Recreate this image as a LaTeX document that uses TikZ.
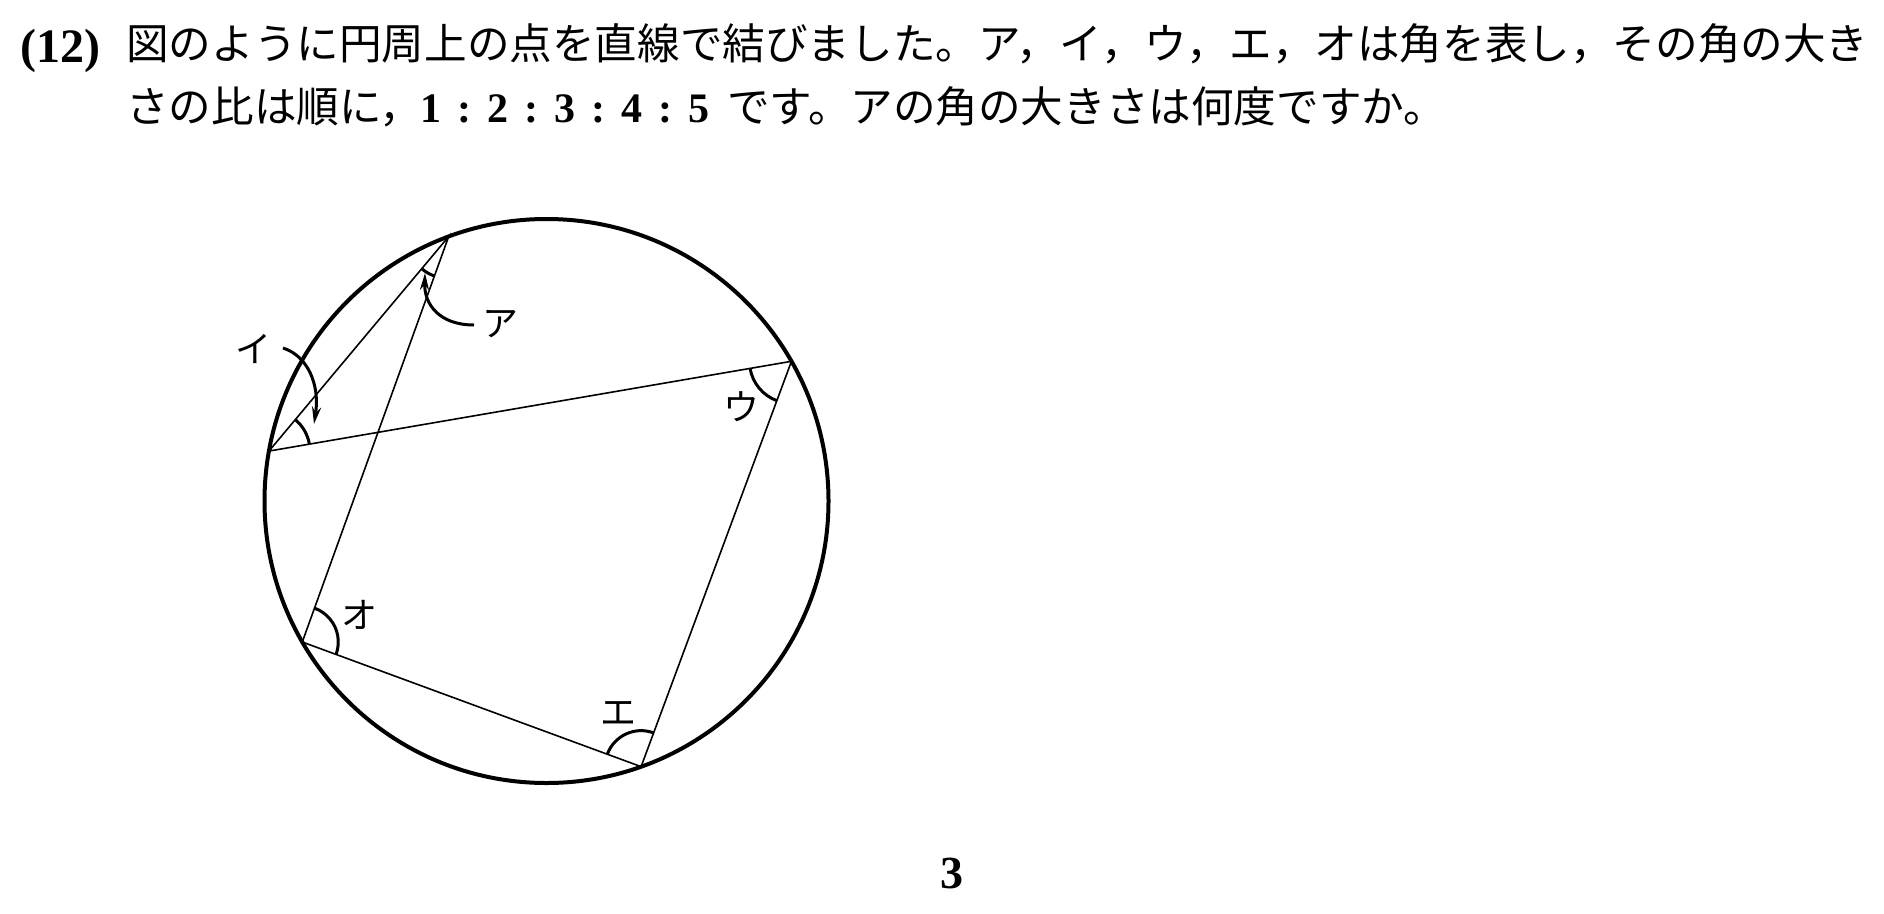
\documentclass[tikz,border=0pt]{standalone}
\usepackage{fontspec}
\usepackage{tikz}
\usetikzlibrary{ arrows.meta,  % For the pointer tips
                 positioning,  % For easy node-relative placements
               }
\newfontfamily\jpfont{Noto Sans CJK JP}
\newfontfamily\numfont{Liberation Serif}
\newcommand{\ratiosep}{\hspace{16pt}:\hspace{16pt}}
\tikzset{
  rim/.style={line width=4pt},
  chord/.style={line width=1.6pt},
  anglemark/.style={line width=3pt},
  pointer/.style={line width=3pt, -{Stealth[length=17pt,width=9pt]}},
  jtext/.style={font=\jpfont\fontsize{42.6}{50}\selectfont, inner sep=0pt, anchor=base west},
  btext/.style={font=\numfont\bfseries\fontsize{42}{48}\selectfont, inner sep=0pt, anchor=base west},
  lbl/.style={font=\jpfont\fontsize{36}{36}\selectfont, inner sep=0pt},
}

\begin{document}
\begin{tikzpicture}[x=1pt,y=-1pt]
    \useasboundingbox (0,0) rectangle (1884,913);
    % question text
    \node[btext, font=\numfont\bfseries\fontsize{48}{52}\selectfont] (num) at (20,62) {(12)};
    \node[jtext] (q1) at (126,59) {図のように円周上の点を直線で結びました。ア，イ，ウ，エ，オは角を表し，その角の大き};
    \node[jtext] (q2) at (126,122) {さの比は順に，};
    \node[btext] (ratio) at ([xshift=-2pt]q2.base east) {1\ratiosep 2\ratiosep 3\ratiosep 4\ratiosep 5};
    \node[jtext] (q3) at ([xshift=17pt]ratio.base east) {です。アの角の大きさは何度ですか。};
    \node[btext, font=\numfont\bfseries\fontsize{46}{48}\selectfont, anchor=base] (page) at (952,888) {3};
    % circle and points
    \coordinate (O) at (546.5,501);
    \draw[rim] (O) circle[radius=282];
    \path (O) ++(-110.3:282) coordinate (A);
    \path (O) ++(-169.8:282) coordinate (B);
    \path (O) ++(-29.7:282) coordinate (C);
    \path (O) ++(150:282) coordinate (D);
    \path (O) ++(70.4:282) coordinate (E);
    \draw[chord] (A) -- (B) -- (C) -- (E) -- (D) -- cycle;
    % angle marks
    \draw[anglemark] (A) ++(109.8:42) arc[start angle=109.8, end angle=129.9, radius=42];
    \draw[anglemark] (B) ++(-50.1:41) arc[start angle=-50.1, end angle=-9.7, radius=41];
    \draw[anglemark] (C) ++(110.2:42) arc[start angle=110.2, end angle=170.3, radius=42];
    \draw[anglemark] (E) ++(-159.8:36) arc[start angle=-159.8, end angle=-69.8, radius=36];
    \draw[anglemark] (D) ++(-70.2:36) arc[start angle=-70.2, end angle=20.2, radius=36];
    % labels
    \node[lbl] (la) at (500,324) {ア};
    \node[lbl] (li) at (253,349) {イ};
    \node[lbl] (lu) at (741,407) {ウ};
    \node[lbl] (le) at (618,713) {エ};
    \node[lbl] (lo) at (359,615) {オ};
    \coordinate (pa) at (474,325);
    \coordinate (ta) at (425,273);
    \coordinate (pi) at (283,348);
    \coordinate (ti) at (314,424);
    \draw[pointer] (pa) .. controls (440,325) and (424,305) .. (ta);
    \draw[pointer] (pi) .. controls (308,356) and (320,385) .. (ti);
\end{tikzpicture}
\end{document}
